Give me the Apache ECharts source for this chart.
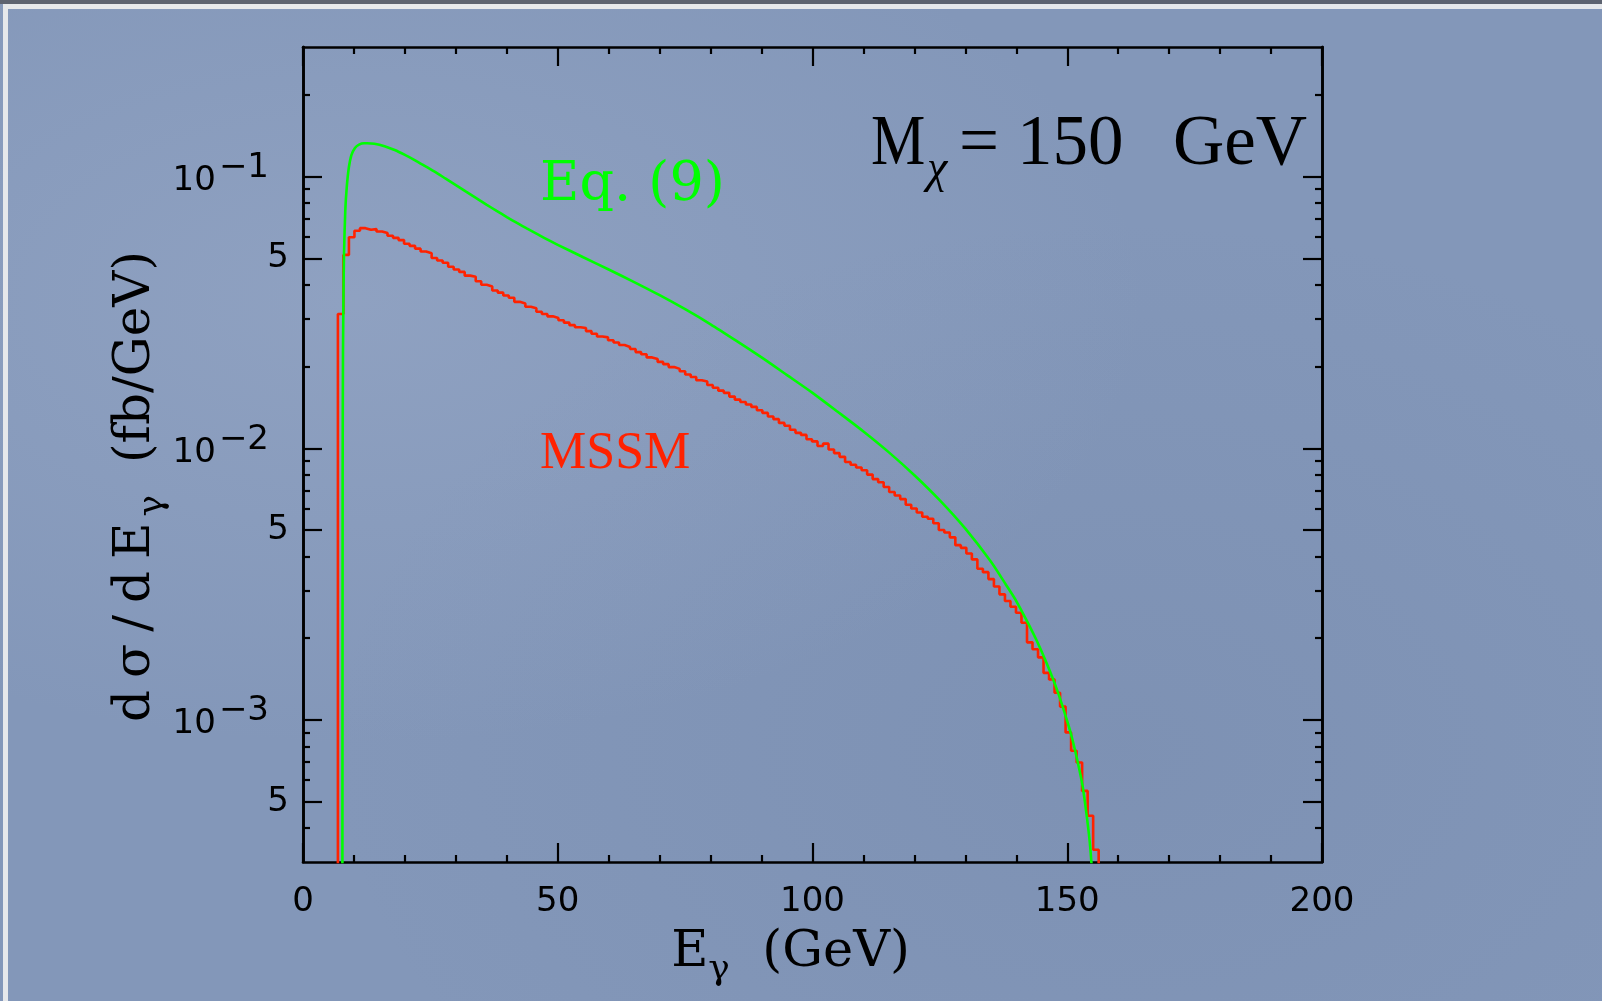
<!DOCTYPE html>
<html><head><meta charset="utf-8">
<script src="https://cdn.jsdelivr.net/npm/echarts@6/dist/echarts.min.js"></script>
<style>
html,body{margin:0;padding:0;width:1602px;height:1001px;overflow:hidden;background:#8397b9;}
#bg{position:absolute;left:0;top:0;width:1602px;height:1001px;background:
 radial-gradient(ellipse at 22% 30%, rgba(165,180,208,0.35), rgba(0,0,0,0) 45%),
 radial-gradient(ellipse at 70% 75%, rgba(105,125,160,0.22), rgba(0,0,0,0) 50%),
 #8397b9;}
#topdark{position:absolute;left:0;top:0;width:1602px;height:4px;background:#5d6370;}
#toplight{position:absolute;left:3px;top:4px;width:1599px;height:5px;background:#e6e8eb;}
#leftlight{position:absolute;left:3px;top:4px;width:5px;height:997px;background:#e6e8eb;}
#chart{position:absolute;left:0;top:0;width:1602px;height:1001px;}
</style></head><body>
<div id="bg"></div><div id="topdark"></div><div id="toplight"></div><div id="leftlight"></div>
<div id="chart"></div>
<script>
// ---- data ----
// Eq. (9) curve: photon energy (GeV) and dσ/dEγ (fb/GeV)
const eqE = [7.72,7.78,7.85,7.95,8.05,8.3,8.6,9.0,9.5,10.2,11.0,12.0,12.6,14,16,18,20,22,24,26,28,30,32,34,36,38,40,42,44,46,48,50,55,60,65,70,75,80,85,90,95,100,105,110,115,120,125,130,135,138,140,142,144,146,148,150,151,152,153,153.8,154.5,155.0,155.3];
const eqV = [1e-4,0.008,0.0225,0.037,0.052,0.075,0.092,0.108,0.12,0.1275,0.1312,0.1327,0.1327,0.1321,0.1294,0.1253,0.1202,0.1148,0.1092,0.1038,0.0983,0.0931,0.0881,0.0834,0.0789,0.0748,0.0710,0.0675,0.0643,0.0614,0.0586,0.0561,0.0505,0.0455,0.0409,0.0366,0.0325,0.0286,0.0249,0.0216,0.0186,0.0160,0.0136,0.01153,0.00966,0.00796,0.00643,0.00506,0.00383,0.00314,0.00274,0.00233,0.00196,0.00161,0.00129,0.000989,0.000849,0.000708,0.000574,0.000447,0.000342,0.00024,1e-4];

// MSSM histogram: first bin edge, bin width (GeV) and bin contents
const mssmStart = 6.85;
const mssmBinWidth = 1.082;
const mssmV = [
 0.0312,0.0515,0.0598,0.0632,0.0646,0.0637,0.0641,0.0628,0.0620,0.0606,
 0.0595,0.0584,0.0566,0.0556,0.0543,0.0530,0.0522,0.0502,0.0491,0.0482,
 0.0466,0.0455,0.0446,0.0432,0.0428,0.0412,0.0400,0.0394,0.0381,0.0374,
 0.0365,0.0358,0.0346,0.0341,0.0332,0.0328,0.0318,0.0312,0.0306,0.0302,
 0.0296,0.0290,0.0284,0.0279,0.0277,0.0270,0.0264,0.0258,0.0256,0.0250,
 0.0245,0.0240,0.0236,0.0232,0.0226,0.0222,0.0216,0.0213,0.0208,0.0204,
 0.0199,0.0196,0.0192,0.0187,0.0183,0.0178,0.0176,0.0171,0.0167,0.0163,
 0.0160,0.0155,0.0151,0.0148,0.0145,0.0142,0.0138,0.0135,0.0131,0.0128,
 0.0124,0.0121,0.0117,0.0114,0.0112,0.0108,0.0106,0.0102,0.0104,0.0099,
 0.0096,0.0093,0.0089,0.0087,0.0085,0.0083,0.0080,0.0077,0.0075,0.0072,
 0.0069,0.0067,0.0065,0.0062,0.0060,0.0058,0.0056,0.0055,0.0053,0.0050,
 0.0049,0.0047,0.0044,0.0043,0.0041,0.0039,0.0036,0.0035,0.0033,0.0031,
 0.0029,0.00274,0.00261,0.00248,0.00228,0.00193,0.00182,0.00170,0.00149,0.00141,
 0.00126,0.00112,0.00090,0.00077,0.000697,0.000548,0.000444,0.000333
];

// axes
const xMin = 0, xMax = 200, xInterval = 50;
const xTickLabels = ['0','50','100','150','200'];
const yMin = 3e-4, yMax = 0.3;
const yTickValues = [5e-4, 1e-3, 5e-3, 1e-2, 5e-2, 1e-1];
const yTickLabels = ['5', '10^-3', '5', '10^-2', '5', '10^-1'];
const yMinorValues = [4e-4,6e-4,7e-4,8e-4,9e-4,2e-3,3e-3,4e-3,6e-3,7e-3,8e-3,9e-3,2e-2,3e-2,4e-2,6e-2,7e-2,8e-2,9e-2,2e-1];

// texts
const annEq = 'Eq. (9)';
const annMSSM = 'MSSM';
const annMass = ['M', 'χ', '=', '150', 'GeV'];

// ---- build ----
const eqData = eqE.map((e, i) => [e, eqV[i]]);
const tiny = 1e-6;
const mssmData = [[mssmStart, tiny]];
mssmV.forEach((v, i) => mssmData.push([mssmStart + i * mssmBinWidth, v]));
mssmData.push([mssmStart + mssmV.length * mssmBinWidth, tiny]);
mssmData.push([xMax, tiny]);

const BLACK = '#000';
const lineW = 2.6;
const labelFont = 'DejaVu Sans';

function yLabel(v) {
  let best = 0, bd = Infinity;
  yTickValues.forEach((t, i) => { const d = Math.abs(Math.log10(t) - Math.log10(v)); if (d < bd) { bd = d; best = i; } });
  const s = yTickLabels[best];
  if (s.indexOf('^') >= 0) {
    const p = s.split('^');
    return '{b|' + p[0] + '}{s|' + p[1].replace('-', '\u2212') + '}';
  }
  return '{f|' + s + '}';
}

function xAxisDef(pos, showLabel) {
  return {
    type: 'value', position: pos, min: xMin, max: xMax, interval: xInterval,
    axisLine: { show: true, onZero: false, lineStyle: { color: BLACK, width: lineW } },
    axisTick: { show: true, inside: true, length: 19, lineStyle: { color: BLACK, width: 2.2 } },
    minorTick: { show: true, splitNumber: 5, length: 7, lineStyle: { color: BLACK, width: 2.2 } },
    splitLine: { show: false }, minorSplitLine: { show: false },
    axisLabel: {
      show: showLabel, margin: 23, color: BLACK, fontFamily: labelFont, fontSize: 34,
      formatter: function (v) { const i = Math.round((v - xMin) / xInterval); return xTickLabels[i] !== undefined ? xTickLabels[i] : ''; }
    }
  };
}

function yAxisDef(pos, major, showLabel) {
  return {
    type: 'log', logBase: 10, position: pos, min: yMin, max: yMax,
    axisLine: { show: true, onZero: false, lineStyle: { color: BLACK, width: lineW } },
    axisTick: { show: true, inside: true, length: major ? 19 : 7, customValues: major ? yTickValues : yMinorValues,
      lineStyle: { color: BLACK, width: 2.2 } },
    minorTick: { show: false },
    splitLine: { show: false }, minorSplitLine: { show: false },
    axisLabel: showLabel ? {
      show: true, margin: 14, customValues: yTickValues, formatter: yLabel,
      rich: {
        b: { fontFamily: labelFont, fontSize: 34, color: BLACK, verticalAlign: 'bottom', padding: [0, 3, 4, 0] },
        s: { fontFamily: labelFont, fontSize: 34, color: BLACK, verticalAlign: 'bottom', padding: [0, 20, 17, 0] },
        f: { fontFamily: labelFont, fontSize: 34, color: BLACK }
      }
    } : { show: false }
  };
}

const chart = echarts.init(document.getElementById('chart'), null, { renderer: 'canvas' });
const yLeft = yAxisDef('left', true, true);
yLeft.name = '{p|d}{p|\u03c3}{p|/}{p|d}{p|E}{g|\u03b3}{a|  (fb/GeV)}';
yLeft.nameLocation = 'middle';
yLeft.nameGap = 132;
yLeft.nameMoveOverlap = false;
yLeft.nameTextStyle = {
  padding: [0, 70, 0, 0],
  rich: {
    p: { fontFamily: 'DejaVu Serif', fontSize: 50, color: BLACK, verticalAlign: 'bottom', padding: [0, 6, 10, 6] },
    a: { fontFamily: 'DejaVu Serif', fontSize: 50, color: BLACK, verticalAlign: 'bottom', padding: [0, 0, 10, 0] },
    g: { fontFamily: 'DejaVu Serif', fontSize: 36, color: BLACK, verticalAlign: 'bottom', padding: [0, 0, 0, 0] }
  }
};
const xBottom = xAxisDef('bottom', true);
xBottom.name = '{a|E}{g|\u03b3}{a|  (GeV)}';
xBottom.nameLocation = 'middle';
xBottom.nameGap = 65;
xBottom.nameMoveOverlap = false;
xBottom.nameTextStyle = {
  padding: [0, 44, 0, 0],
  rich: {
    a: { fontFamily: 'DejaVu Serif', fontSize: 51, color: BLACK, verticalAlign: 'bottom', padding: [0, 0, 10, 0] },
    g: { fontFamily: 'DejaVu Serif', fontSize: 36, color: BLACK, verticalAlign: 'bottom', padding: [0, 0, 0, 0] }
  }
};

function txt(x, y, text, font, fill, sx) {
  return { type: 'text', x: x, y: y, scaleX: sx || 1, style: { text: text, font: font, fill: fill, align: 'left', verticalAlign: 'middle', textAlign: 'left', textVerticalAlign: 'middle' } };
}

const option = {
  backgroundColor: 'transparent',
  animation: false,
  grid: { left: 303, right: 280, top: 47, bottom: 139, containLabel: false, outerBoundsMode: 'none' },
  xAxis: [xBottom, xAxisDef('top', false)],
  yAxis: [yLeft, yAxisDef('left', false, false), yAxisDef('right', true, false), yAxisDef('right', false, false)],
  series: [
    { name: 'Eq. (9)', type: 'line', xAxisIndex: 0, yAxisIndex: 0, data: eqData, showSymbol: false, symbol: 'none',
      smooth: 0.25, clip: true, lineStyle: { color: '#00ff00', width: 2.6 }, z: 3 },
    { name: 'MSSM', type: 'line', xAxisIndex: 0, yAxisIndex: 0, data: mssmData, showSymbol: false, symbol: 'none',
      step: 'end', clip: true, lineStyle: { color: '#ff2200', width: 2.6 }, z: 2 }
  ],
  graphic: [
    txt(540, 186, annEq, '54px "DejaVu Serif"', '#00ff00'),
    txt(540, 454, annMSSM, '52px "Liberation Serif"', '#ff2200'),
    txt(871, 145, annMass[0], '71px "Liberation Serif"', BLACK, 0.86),
    txt(927, 170, annMass[1], 'italic 46px "Liberation Serif"', BLACK),
    txt(959, 145, annMass[2], '71px "Liberation Serif"', BLACK),
    txt(1017, 145, annMass[3], '71px "Liberation Serif"', BLACK),
    txt(1173, 145, annMass[4], '71px "Liberation Serif"', BLACK)
  ]
};
chart.setOption(option);
</script>
</body></html>
